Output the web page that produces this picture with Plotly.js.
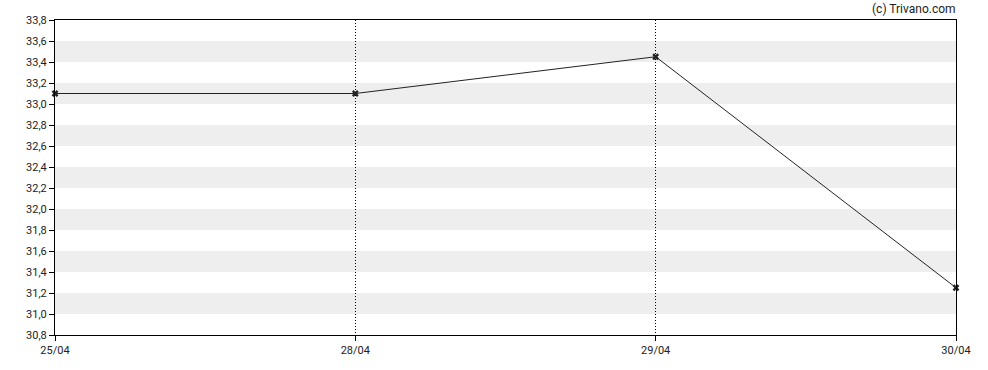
<!DOCTYPE html>
<html><head><meta charset="utf-8">
<script src="https://cdn.plot.ly/plotly-3.0.1.min.js"></script>
<style>body{margin:0;padding:0;background:#fff}#c{width:988px;height:370px}</style>
</head><body><div id="c"></div>
<script>
const dates = ['25/04', '28/04', '29/04', '30/04'];
const prices = [33.1, 33.1, 33.45, 31.25];
const yMin = 30.8, yMax = 33.8, yStep = 0.2;
const bandStarts = [31.0, 31.4, 31.8, 32.2, 32.6, 33.0, 33.4];

const shapes = bandStarts.map(b => ({
  type: 'rect', xref: 'paper', yref: 'y', x0: 0, x1: 1, y0: b, y1: b + yStep,
  fillcolor: '#eeeeee', line: {width: 0}, layer: 'below'
}));

const trace = {
  x: dates, y: prices, type: 'scatter', mode: 'lines+markers',
  line: {color: '#222222', width: 1},
  marker: {symbol: 'x', size: 6, color: '#222222'},
  cliponaxis: false,
  hoverinfo: 'skip'
};

const layout = {
  width: 988, height: 370,
  margin: {l: 55, r: 32, t: 20, b: 35},
  paper_bgcolor: '#ffffff', plot_bgcolor: '#ffffff',
  separators: ', ',
  showlegend: false,
  font: {family: 'Roboto, Arial, sans-serif', size: 11, color: '#222222'},
  xaxis: {
    type: 'category', range: [0, dates.length - 1],
    showgrid: true, gridcolor: '#000000', griddash: '1px,2px', gridwidth: 1,
    showline: true, linecolor: '#000000', linewidth: 1, mirror: true,
    ticks: 'outside', ticklen: 5, tickcolor: '#000000',
    zeroline: false, fixedrange: true,
    tickfont: {family: 'Roboto, Arial, sans-serif', size: 11, color: '#222222'}
  },
  yaxis: {
    range: [yMin, yMax], dtick: yStep, tick0: yMin, tickformat: '.1f',
    showgrid: false, zeroline: false,
    showline: true, linecolor: '#000000', linewidth: 1, mirror: true,
    ticks: 'outside', ticklen: 5, tickcolor: '#000000', fixedrange: true,
    tickfont: {family: 'Roboto, Arial, sans-serif', size: 11, color: '#222222'}
  },
  shapes: shapes,
  annotations: [{
    text: '(c) Trivano.com', xref: 'paper', yref: 'paper', x: 1, y: 1,
    xanchor: 'right', yanchor: 'bottom', yshift: 2, xshift: 2, showarrow: false,
    font: {family: 'Roboto, Arial, sans-serif', size: 12, color: '#222222'}
  }]
};

Plotly.newPlot('c', [trace], layout, {displayModeBar: false, staticPlot: true});
</script></body></html>
